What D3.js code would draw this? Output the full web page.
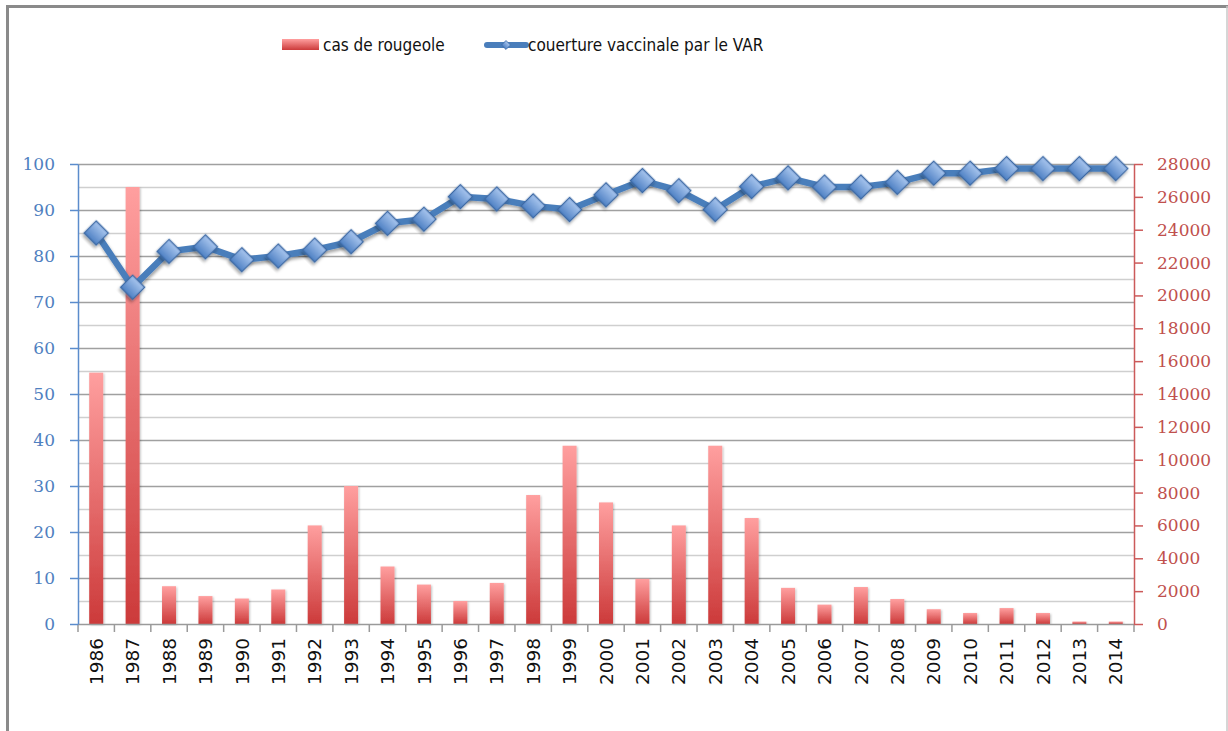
<!DOCTYPE html>
<html><head><meta charset="utf-8">
<script src="https://cdn.jsdelivr.net/npm/d3@7"></script>
<style>html,body{margin:0;padding:0;background:#fff;}svg{display:block;}</style>
</head><body>
<svg id="chart" width="1228" height="731"></svg>
<script>
const years = ["1986","1987","1988","1989","1990","1991","1992","1993","1994","1995","1996","1997","1998","1999","2000","2001","2002","2003","2004","2005","2006","2007","2008","2009","2010","2011","2012","2013","2014"];
const cases = [15300,26600,2300,1700,1550,2100,6000,8400,3500,2400,1400,2500,7850,10850,7400,2750,6000,10850,6450,2200,1180,2250,1520,900,670,970,670,150,150];
const coverage = [85,73.2,81,82,79.2,80,81.3,83.1,87.1,88,92.9,92.4,90.9,90.1,93.3,96.4,94.2,90.1,95.1,97,95,95,96,98,98,99,99,99,99];
const leftTicks = [0,10,20,30,40,50,60,70,80,90,100];
const rightTicks = [0,2000,4000,6000,8000,10000,12000,14000,16000,18000,20000,22000,24000,26000,28000];
const gridValues = [5,10,15,20,25,30,35,40,45,50,55,60,65,70,75,80,85,90,95,100];
const seriesNames = ["cas de rougeole","couerture vaccinale par le VAR"];

const svg = d3.select("#chart");
const W = 1228, H = 731;
const L = 78, R = 1134, T = 164, B = 624;

const defs = svg.append("defs");
const bg = defs.append("linearGradient").attr("id","barGrad").attr("x1",0).attr("y1",0).attr("x2",0).attr("y2",1);
bg.append("stop").attr("offset","0%").attr("stop-color","#ff9f9f");
bg.append("stop").attr("offset","100%").attr("stop-color","#cc3a3a");
const dg = defs.append("linearGradient").attr("id","diaGrad").attr("x1",0).attr("y1",0).attr("x2",0).attr("y2",1);
dg.append("stop").attr("offset","0%").attr("stop-color","#a9c6ee");
dg.append("stop").attr("offset","100%").attr("stop-color","#4f81c4");
const sh = defs.append("filter").attr("id","shadow").attr("x","-30%").attr("y","-30%").attr("width","160%").attr("height","160%");
sh.append("feDropShadow").attr("dx",1).attr("dy",2.5).attr("stdDeviation",1.6).attr("flood-color","#000").attr("flood-opacity",0.35);
const sh2 = defs.append("filter").attr("id","barShadow").attr("x","-40%").attr("y","-5%").attr("width","180%").attr("height","110%");
sh2.append("feDropShadow").attr("dx",1).attr("dy",1).attr("stdDeviation",1.2).attr("flood-color","#000").attr("flood-opacity",0.25);

// frame
svg.append("line").attr("x1",6).attr("x2",W).attr("y1",6.5).attr("y2",6.5).attr("stroke","#8a8a8a").attr("stroke-width",3);
svg.append("line").attr("x1",7.5).attr("x2",7.5).attr("y1",5).attr("y2",H).attr("stroke","#8a8a8a").attr("stroke-width",3);
svg.append("line").attr("x1",W-1).attr("x2",W-1).attr("y1",6).attr("y2",H).attr("stroke","#c8c8c8").attr("stroke-width",1.5);

const x = d3.scaleBand().domain(years).range([L,R]).paddingInner(0).paddingOuter(0);
const yL = d3.scaleLinear().domain([0,100]).range([B,T]);
const yR = d3.scaleLinear().domain([0,28000]).range([B,T]);

// gridlines
svg.append("g").selectAll("line").data(gridValues).join("line")
  .attr("x1",L).attr("x2",R)
  .attr("y1",d=>Math.round(yL(d))+0.5).attr("y2",d=>Math.round(yL(d))+0.5)
  .attr("stroke",d=> d%10===0 ? "#a0a0a0" : "#cfcfcf").attr("stroke-width",1.6);

// bars
const bw = 14;
svg.append("g").selectAll("rect").data(cases).join("rect")
  .attr("x",(d,i)=>x(years[i])+x.bandwidth()/2-bw/2)
  .attr("y",d=>yR(d))
  .attr("width",bw)
  .attr("height",d=>B-yR(d))
  .attr("fill","url(#barGrad)")
  .attr("filter","url(#barShadow)");

// x axis
const xa = svg.append("g");
xa.append("line").attr("x1",L).attr("x2",R).attr("y1",B+0.5).attr("y2",B+0.5).attr("stroke","#9a9a9a").attr("stroke-width",1.5);
const bounds = years.map(y=>x(y)).concat([R]);
xa.selectAll("line.tk").data(bounds).join("line").attr("class","tk")
  .attr("x1",d=>d).attr("x2",d=>d).attr("y1",B).attr("y2",B+8).attr("stroke","#9a9a9a").attr("stroke-width",1.5);
xa.selectAll("text").data(years).join("text")
  .attr("transform",d=>`translate(${x(d)+x.bandwidth()/2},638) rotate(-90)`)
  .attr("dy","0.36em").attr("text-anchor","end")
  .attr("font-family","DejaVu Sans").attr("font-size",18.5).attr("fill","#111")
  .text(d=>d);

// left axis
const la = svg.append("g").attr("transform",`translate(${L},0)`)
  .call(d3.axisLeft(yL).tickValues(leftTicks).tickSize(8).tickSizeOuter(0).tickPadding(15).tickFormat(d3.format("d")));
la.select(".domain").attr("stroke","#5b8ccc").attr("stroke-width",1.5);
la.selectAll(".tick line").attr("stroke","#5b8ccc").attr("stroke-width",1.5);
la.selectAll(".tick text").attr("font-family","DejaVu Serif").attr("font-size",17).attr("fill","#4f7fc0");

// right axis
const ra = svg.append("g").attr("transform",`translate(${R},0)`)
  .call(d3.axisRight(yR).tickValues(rightTicks).tickSize(9).tickSizeOuter(0).tickPadding(14).tickFormat(d3.format("d")));
ra.select(".domain").attr("stroke","#cc5a5a").attr("stroke-width",1.5);
ra.selectAll(".tick line").attr("stroke","#cc5a5a").attr("stroke-width",1.5);
ra.selectAll(".tick text").attr("font-family","DejaVu Serif").attr("font-size",17).attr("fill","#c0504d");

// line
const line = d3.line().x((d,i)=>x(years[i])+x.bandwidth()/2).y(d=>yL(d));
svg.append("path").datum(coverage).attr("d",line).attr("fill","none")
  .attr("stroke","#4a7ebb").attr("stroke-width",6.5).attr("stroke-linejoin","round").attr("filter","url(#shadow)");
const sym = d3.symbol().type(d3.symbolSquare).size(290);
svg.append("g").selectAll("path").data(coverage).join("path")
  .attr("transform",(d,i)=>`translate(${x(years[i])+x.bandwidth()/2},${yL(d)}) rotate(45)`)
  .attr("d",sym).attr("fill","url(#diaGrad)").attr("stroke","#3d6ba6").attr("stroke-width",1.3)
  .attr("filter","url(#shadow)");

// legend
const lg = svg.append("g");
lg.append("rect").attr("x",282).attr("y",39).attr("width",37).attr("height",11).attr("fill","url(#barGrad)");
lg.append("text").attr("x",323).attr("y",51).attr("font-family","DejaVu Sans Condensed").attr("font-size",17).attr("fill","#111").text(seriesNames[0]);
lg.append("line").attr("x1",487).attr("x2",526).attr("y1",45).attr("y2",45).attr("stroke","#4a7ebb").attr("stroke-width",6).attr("stroke-linecap","round");
lg.append("path").attr("transform","translate(506,45) rotate(45)").attr("d",d3.symbol().type(d3.symbolSquare).size(40)).attr("fill","url(#diaGrad)").attr("stroke","#3d6ba6").attr("stroke-width",0.8);
lg.append("text").attr("x",528).attr("y",51).attr("font-family","DejaVu Sans Condensed").attr("font-size",17).attr("fill","#111").text(seriesNames[1]);
</script>
</body></html>
